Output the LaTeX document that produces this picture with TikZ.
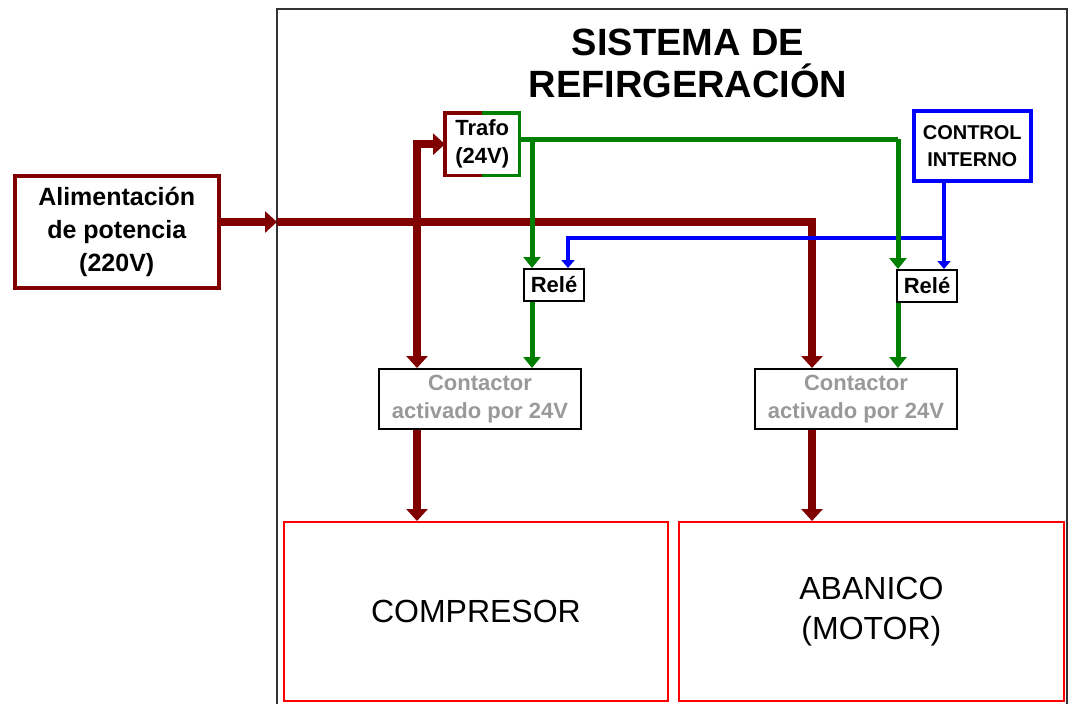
\documentclass[tikz,border=0pt]{standalone}
\usepackage{fontspec}
\setmainfont{Liberation Sans}
\usetikzlibrary{arrows.meta}
\definecolor{pwr}{HTML}{800000}
\definecolor{ctl}{HTML}{008000}
\definecolor{sig}{HTML}{0000FF}
\definecolor{ld}{HTML}{FF0000}
\definecolor{gtxt}{HTML}{999999}
\tikzset{
  box/.style={draw, anchor=north west, inner sep=0pt, align=center, font=\bfseries},
  pw/.style={pwr, line width=7.5pt},
  pwa/.style={pw, -{Triangle[width=21pt,length=12pt]}},
  gw/.style={ctl, line width=5pt},
  gwa/.style={gw, -{Triangle[width=17pt,length=11pt]}},
  bw/.style={sig, line width=3.5pt},
  bwa/.style={bw, -{Triangle[width=13pt,length=8pt]}},
}
\begin{document}
\begin{tikzpicture}[x=1pt,y=-1pt]
\useasboundingbox (0,0) rectangle (1071,704);
\fill[white] (0,0) rectangle (1071,704);
% outer frame
\draw[black!80, line width=1.5pt] (277,9) rectangle (1067,720);
% title
\node[font=\bfseries\fontsize{38}{42}\selectfont, align=center] (title) at (688,63) {SISTEMA DE\\REFIRGERACIÓN};
% boxes
\node[box, pwr, line width=3.5pt, minimum width=204pt, minimum height=112pt, font=\bfseries\fontsize{25}{33}\selectfont, text=black] (alim) at (13,174) {Alimentación\\de potencia\\(220V)};
\node[box, draw=none, minimum width=74pt, minimum height=62pt, font=\bfseries\fontsize{22}{28}\selectfont] (trafo) at (445,113) {Trafo\\(24V)};
\draw[pwr, line width=3.5pt] (trafo.north) -- (trafo.north west) -- (trafo.south west) -- (trafo.south);
\draw[ctl, line width=3.5pt] (trafo.north) -- (trafo.north east) -- (trafo.south east) -- (trafo.south);
\node[box, sig, line width=3.5pt, minimum width=117pt, minimum height=70pt, text=black, font=\bfseries\fontsize{20}{27}\selectfont] (ctrl) at (912,109) {CONTROL\\INTERNO};
\node[box, line width=2pt, minimum width=60pt, minimum height=32pt, font=\bfseries\fontsize{22}{26}\selectfont] (rele1) at (523,268) {Relé};
\node[box, line width=2pt, minimum width=60pt, minimum height=32pt, font=\bfseries\fontsize{22}{26}\selectfont] (rele2) at (896,269) {Relé};
\node[box, line width=2pt, minimum width=202pt, minimum height=60pt, text=gtxt, font=\bfseries\fontsize{22}{28}\selectfont] (c1) at (378,368) {Contactor\\activado por 24V};
\node[box, line width=2pt, minimum width=202pt, minimum height=60pt, text=gtxt, font=\bfseries\fontsize{22}{28}\selectfont] (c2) at (754,368) {Contactor\\activado por 24V};
\node[box, ld, line width=1.8pt, minimum width=384pt, minimum height=179pt, text=black, font=\fontsize{32}{40}\selectfont] (comp) at (283,521) {COMPRESOR};
\node[box, ld, line width=1.8pt, minimum width=385pt, minimum height=179pt, text=black, font=\fontsize{32}{40}\selectfont] (aban) at (678,521) {ABANICO\\(MOTOR)};
% junction coordinates
\coordinate (j0) at (277,222);
\coordinate (j1) at (417,222);
\coordinate (r2) at (812,222);
\coordinate (g0) at (532,139);
\coordinate (g1) at (898,139);
\coordinate (b0) at (944,238);
\coordinate (b1) at (568,238);
% power lines
\draw[pwa] (alim.east |- j0) -- (j0);
\draw[pwa] (j0) -- (r2) -- (r2 |- c2.north);
\draw[pwa] (j1) -- (j1 |- c1.north);
\draw[pwa] (j1) -- (j1 |- trafo.west) -- (trafo.west);
\draw[pwa] (j1 |- c1.south) -- (j1 |- comp.north);
\draw[pwa] (r2 |- c2.south) -- (r2 |- aban.north);
% control signal lines
\draw[bwa] (ctrl.south -| b0) -- (b0 |- rele2.north);
\draw[bwa] (b0) -- (b1) -- (b1 |- rele1.north);
% 24V lines
\draw[gw] (trafo.east |- g0) -- (g1);
\draw[gwa] (g1) -- (g1 |- rele2.north);
\draw[gwa] (g0) -- (g0 |- rele1.north);
\draw[gwa] (g0 |- rele1.south) -- (g0 |- c1.north);
\draw[gwa] (g1 |- rele2.south) -- (g1 |- c2.north);
\end{tikzpicture}
\end{document}
